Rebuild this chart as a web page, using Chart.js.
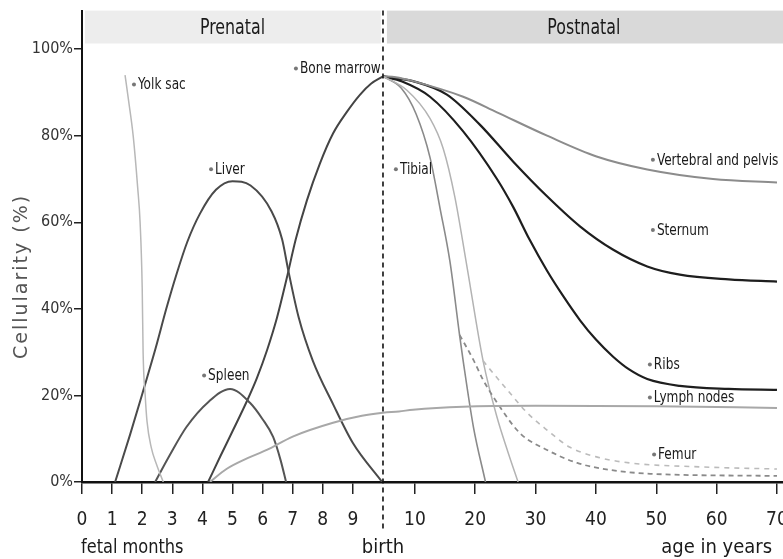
<!DOCTYPE html>
<html>
<head>
<meta charset="utf-8">
<script src="https://cdn.jsdelivr.net/npm/chart.js@4.4.1/dist/chart.umd.min.js"></script>
<style>
  html, body { margin: 0; padding: 0; background: #fff; overflow: hidden; }
</style>
</head>
<body>
<canvas id="chart" width="783" height="559"></canvas>
<script>
// x axis is broken: fetal months 0-10 (birth = 10), then age in years
// squeezed 0-10 and linear after that
function agePos(years) {
  return years <= 10 ? 10 + years * 0.106 : 11.06 + (years - 10) * 0.2005;
}

// prenatal curves: [fetal month, cellularity %]
const yolkSac = [[1.43, 94], [1.55, 88], [1.7, 80], [1.85, 68], [1.93, 60], [2.0, 45], [2.03, 30], [2.1, 20], [2.16, 14], [2.3, 8], [2.48, 4], [2.7, 0]];
const liver = [[1.1, 0], [1.6, 11], [2.03, 21], [2.45, 31], [2.8, 40], [3.14, 48], [3.5, 55.5], [3.92, 62], [4.45, 67.5], [5, 69.5], [5.6, 68.5], [6.3, 62.5], [6.65, 56], [6.85, 49], [7.2, 38], [7.67, 28], [8.34, 18], [9, 9], [9.97, 0]];
const spleen = [[2.43, 0], [2.9, 6], [3.47, 12.7], [4.2, 18.5], [4.92, 21.5], [5.58, 18.3], [6.0, 14.5], [6.35, 10.4], [6.6, 5], [6.78, 0]];
const boneMarrow = [[4.19, 0], [4.6, 6], [5.02, 12], [5.5, 19], [5.81, 24], [6.15, 30.5], [6.48, 38], [6.8, 47], [7.1, 56], [7.47, 65], [7.9, 73.5], [8.34, 80.5], [8.8, 85.5], [9.24, 89.5], [9.6, 92], [10, 93.7]];
const lymphFetal = [[4.25, 0], [4.8, 3], [5.5, 5.5], [6.14, 7.4], [7, 10.5], [8.34, 13.7], [9.3, 15.3], [10, 16]];

// postnatal curves: [age in years, cellularity %]
const lymphYears = [[5, 16.3], [9.4, 16.7], [18, 17.4], [30, 17.6], [50, 17.5], [70, 17.1]];
const vertebral = [[0, 93.7], [4, 93.5], [9.4, 92.6], [18, 89], [23.6, 85.4], [31.9, 80], [40.1, 75.2], [48.5, 72.2], [59.4, 70], [70, 69.2]];
const sternum = [[0, 93.7], [5, 93.2], [9.4, 92.6], [15.3, 89.5], [20.8, 82.5], [26.3, 74], [31.9, 66], [37.4, 59], [42.8, 53.7], [48.5, 49.8], [53.9, 47.9], [62, 46.8], [70, 46.3]];
const ribs = [[0, 93.7], [6, 92.5], [12.5, 89], [18, 81], [23.6, 70], [26.3, 63.5], [29, 56], [31.9, 48.8], [34.5, 43.1], [37.4, 37.3], [40, 32.9], [42.8, 29], [45.5, 26], [48.5, 23.8], [53.9, 22.2], [62, 21.5], [70, 21.3]];
const tibialA = [[0, 93.7], [5.7, 91], [10.2, 85], [12.5, 75], [14.2, 63], [15.8, 51], [17.4, 34], [18, 28], [19.7, 12.7], [21.7, 0]];
const tibialB = [[0, 93.7], [7.5, 90.5], [12.5, 84], [14.7, 77], [16.6, 66], [18.6, 50], [21.3, 28], [23.6, 15], [25.4, 7], [27.1, 0]];
const femurA = [[17.4, 34], [19.7, 28.2], [21.3, 23.6], [23.3, 19], [27.4, 11.3], [31.9, 7.4], [36.9, 4.4], [42.3, 2.8], [49, 1.9], [70, 1.4]];
const femurB = [[21.3, 28], [22.1, 26.6], [25.3, 21.3], [28.6, 16], [31.9, 12], [35.6, 8.1], [40.1, 5.8], [45.6, 4.4], [57.1, 3.5], [70, 3]];

// axis ticks
const fetalTicks = [0, 1, 2, 3, 4, 5, 6, 7, 8, 9];
const yearTicks = [10, 20, 30, 40, 50, 60, 70];
const xTickPos = fetalTicks.concat(yearTicks.map(agePos));
const xTickLabels = fetalTicks.concat(yearTicks).map(String);
const yTickValues = [0, 20, 40, 60, 80, 100];
const yTickLabels = ['0%', '20%', '40%', '60%', '80%', '100%'];

// curve labels: [text, x position, y %]
const curveLabels = [
  ['Yolk sac', 1.86, 91.6],
  ['Liver', 4.42, 72],
  ['Bone marrow', 7.24, 95.3],
  ['Spleen', 4.19, 24.4],
  ['Tibial', agePos(5.3), 72],
  ['Vertebral and pelvis', agePos(50.1), 74.2],
  ['Sternum', agePos(50.1), 58],
  ['Ribs', agePos(49.6), 26.9],
  ['Lymph nodes', agePos(49.6), 19.3],
  ['Femur', agePos(50.3), 6.1],
];

const NARROW = '"Liberation Sans Narrow", "DejaVu Sans Condensed", "Arial Narrow", sans-serif';

function fetal(pts) { return pts.map(p => ({ x: p[0], y: p[1] })); }
function years(pts) { return pts.map(p => ({ x: agePos(p[0]), y: p[1] })); }

function curve(label, data, color, width, dash) {
  return {
    label: label,
    data: data,
    borderColor: color,
    borderWidth: width,
    borderDash: dash || [],
    showLine: true,
    pointRadius: 0,
    fill: false,
    cubicInterpolationMode: 'monotone',
  };
}

// squeezed text, the scan uses a very condensed face
function narrowText(ctx, text, px, py, sx) {
  ctx.save();
  ctx.translate(px, py);
  ctx.scale(sx, 1);
  ctx.fillText(text, 0, 0);
  ctx.restore();
}

const decor = {
  id: 'decor',
  beforeDatasetsDraw(chart) {
    const { ctx, chartArea, scales: { x, y } } = chart;
    const bandBottom = y.getPixelForValue(101.3);
    const top = chartArea.top;
    ctx.save();
    ctx.fillStyle = '#ededed';
    ctx.fillRect(x.getPixelForValue(0) + 3, top, x.getPixelForValue(9.93) - x.getPixelForValue(0) - 3, bandBottom - top);
    ctx.fillStyle = '#d9d9d9';
    ctx.fillRect(x.getPixelForValue(10.13), top, chart.width - x.getPixelForValue(10.13), bandBottom - top);
    ctx.fillStyle = '#1a1a1a';
    ctx.font = '22px ' + NARROW;
    ctx.textAlign = 'center';
    ctx.textBaseline = 'middle';
    const mid = (top + bandBottom) / 2 + 1;
    narrowText(ctx, 'Prenatal', x.getPixelForValue(5.0), mid, 0.8);
    narrowText(ctx, 'Postnatal', x.getPixelForValue(agePos(38)), mid, 0.8);
    ctx.restore();
  },
  afterDraw(chart) {
    const { ctx, chartArea, scales: { x, y } } = chart;
    ctx.save();
    // birth line
    const bx = x.getPixelForValue(10);
    ctx.strokeStyle = '#111';
    ctx.lineWidth = 1.6;
    ctx.setLineDash([5, 4]);
    ctx.beginPath();
    ctx.moveTo(bx, chartArea.top);
    ctx.lineTo(bx, chartArea.bottom + 50);
    ctx.stroke();
    ctx.setLineDash([]);

    // curve labels
    ctx.font = '15px ' + NARROW;
    ctx.textAlign = 'left';
    ctx.textBaseline = 'middle';
    curveLabels.forEach(([text, px, py]) => {
      const lx = x.getPixelForValue(px);
      const ly = y.getPixelForValue(py);
      ctx.fillStyle = '#777';
      ctx.beginPath();
      ctx.arc(lx - 4, ly - 1, 2, 0, Math.PI * 2);
      ctx.fill();
      ctx.fillStyle = '#1a1a1a';
      narrowText(ctx, text, lx, ly, 0.9);
    });

    // axis captions
    ctx.font = '20px ' + NARROW;
    ctx.fillStyle = '#1a1a1a';
    ctx.textAlign = 'center';
    ctx.textBaseline = 'middle';
    const capY = chartArea.bottom + 66;
    narrowText(ctx, 'fetal months', x.getPixelForValue(1.67), capY, 0.9);
    ctx.fillText('birth', bx, capY);
    ctx.fillText('age in years', x.getPixelForValue(agePos(60)), capY);

    // y title
    ctx.translate(22, y.getPixelForValue(47.5));
    ctx.rotate(-Math.PI / 2);
    ctx.font = '19px "DejaVu Sans", sans-serif';
    ctx.letterSpacing = '2px';
    ctx.fillStyle = '#555';
    ctx.fillText('Cellularity (%)', 0, 0);
    ctx.restore();
  },
};

new Chart(document.getElementById('chart'), {
  type: 'scatter',
  data: {
    datasets: [
      curve('Yolk sac', fetal(yolkSac), '#b8b8b8', 1.5),
      curve('Lymph nodes', fetal(lymphFetal).concat(years(lymphYears)), '#a8a8a8', 2),
      curve('Femur', years(femurB), '#bbbbbb', 1.6, [5, 5]),
      curve('Femur', years(femurA), '#8a8a8a', 1.8, [5, 4]),
      curve('Tibial', years(tibialB), '#b3b3b3', 1.5),
      curve('Tibial', years(tibialA), '#8a8a8a', 1.6),
      curve('Vertebral and pelvis', years(vertebral), '#8c8c8c', 2),
      curve('Liver', fetal(liver), '#4a4a4a', 2),
      curve('Spleen', fetal(spleen), '#555', 2),
      curve('Bone marrow', fetal(boneMarrow), '#444', 2),
      curve('Sternum', years(sternum), '#1e1e1e', 2.2),
      curve('Ribs', years(ribs), '#1e1e1e', 2.2),
    ],
  },
  options: {
    responsive: false,
    animation: false,
    layout: { padding: { top: 10, right: 0, bottom: 0, left: 0 } },
    plugins: {
      legend: { display: false },
      tooltip: { enabled: false },
    },
    scales: {
      x: {
        type: 'linear',
        min: 0,
        max: 23.29,
        afterBuildTicks: (scale) => { scale.ticks = xTickPos.map(v => ({ value: v })); },
        afterFit: (scale) => { scale.height = 77; scale.paddingLeft = 0; scale.paddingRight = 0; },
        grid: { display: true, drawOnChartArea: false, drawTicks: true, tickLength: 12, color: '#222', lineWidth: 1.5 },
        border: { display: true, color: '#111', width: 2.5 },
        ticks: {
          autoSkip: false,
          maxRotation: 0,
          padding: 15,
          color: '#222',
          font: { family: NARROW, size: 19 },
          callback: (v, i) => xTickLabels[i],
        },
      },
      y: {
        min: 0,
        max: 108.9,
        afterBuildTicks: (scale) => { scale.ticks = yTickValues.map(v => ({ value: v })); },
        afterFit: (scale) => { scale.width = 82; },
        grid: { display: true, drawOnChartArea: false, drawTicks: true, tickLength: 8, color: '#222', lineWidth: 1.5 },
        border: { display: true, color: '#111', width: 2 },
        ticks: {
          padding: 1,
          color: '#333',
          font: { family: NARROW, size: 16 },
          callback: (v, i) => yTickLabels[i],
        },
      },
    },
  },
  plugins: [decor],
});
</script>
</body>
</html>
